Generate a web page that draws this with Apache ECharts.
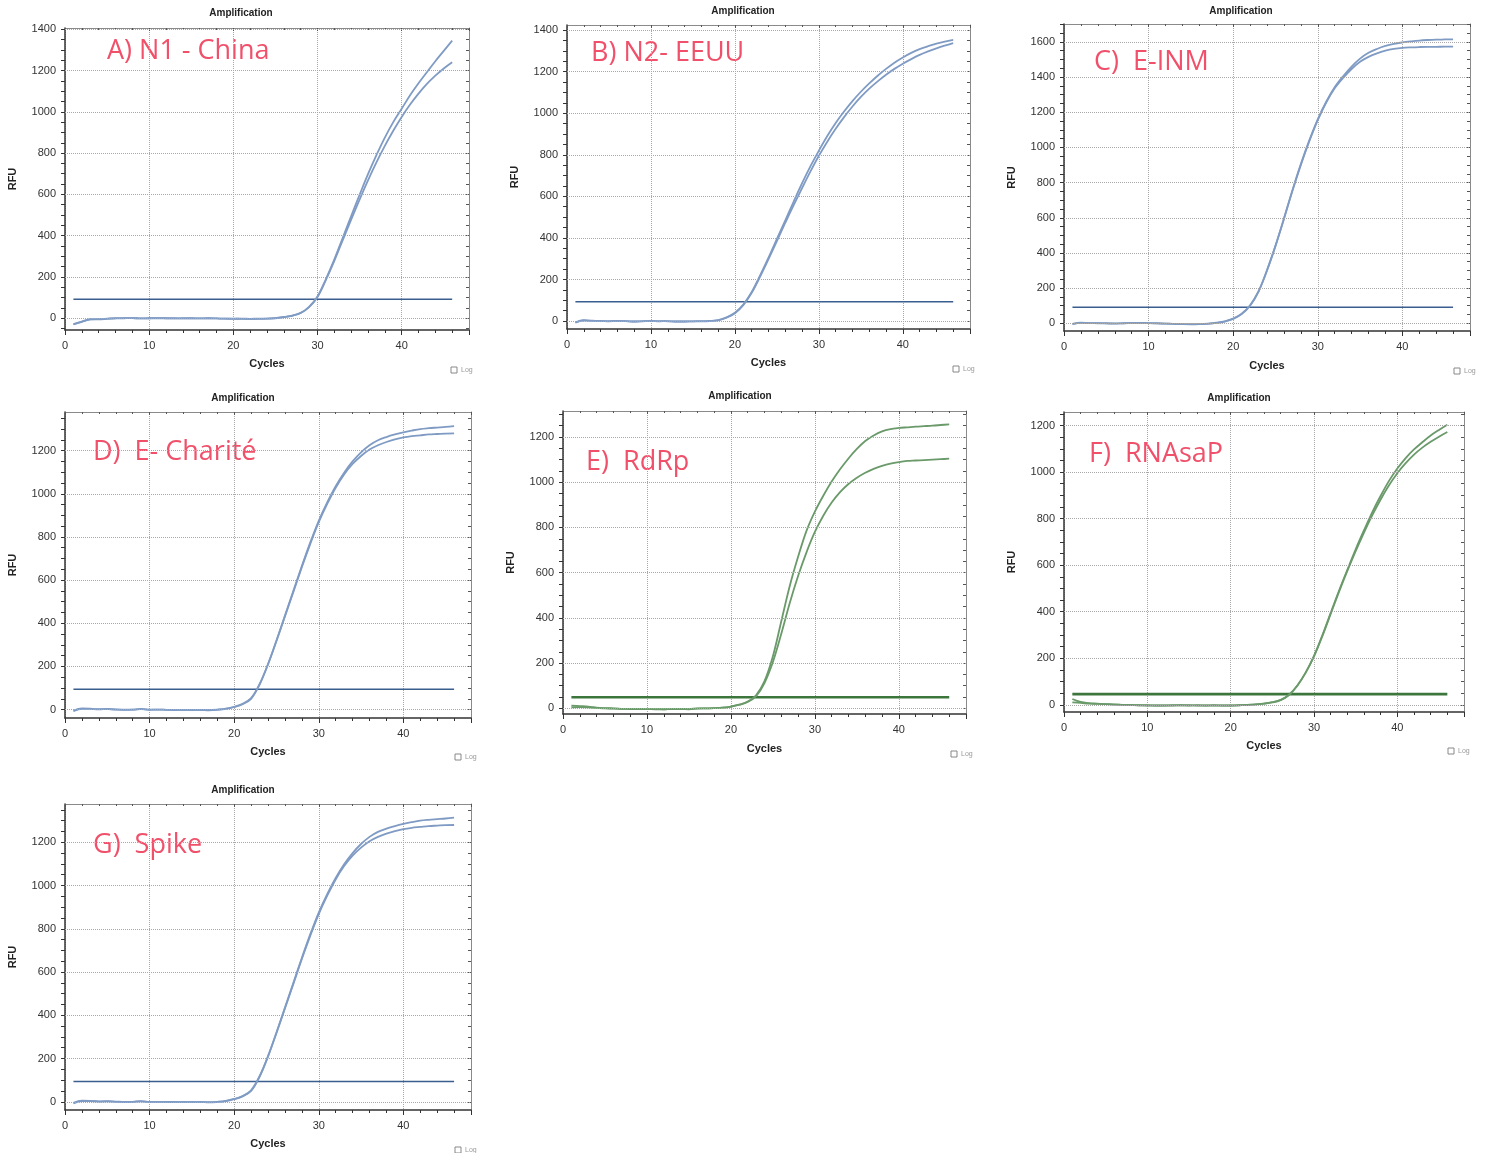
<!DOCTYPE html>
<html>
<head>
<meta charset="utf-8">
<title>Amplification</title>
<script src="https://cdn.jsdelivr.net/npm/echarts@6/dist/echarts.min.js"></script>
<style>
  html, body { margin: 0; padding: 0; background: #fff; }
  #chart { width: 1499px; height: 1153px; }
</style>
</head>
<body>
<div id="chart"></div>
<script>
// ciclos de la PCR (eje X)
const cycles = [1,2,3,4,5,6,7,8,9,10,11,12,13,14,15,16,17,18,19,20,21,22,23,24,25,26,27,28,29,30,31,32,33,34,35,36,37,38,39,40,41,42,43,44,45,46];
const xLabels = [0, 10, 20, 30, 40];

// A) N1 - China
const n1ChinaA = [-30,-18,-6,-5,-3,-1,0,1,-1,0, 0,0,0,-1,0,-1,0,-1,-2,-2, -3,-3,-2,-2,0,5,12,25,55,105, 190,285,390,495,598,698,790,875,950,1015, 1080,1138,1192,1245,1295,1345];
const n1ChinaB = [-28,-16,-5,-4,-2,0,1,1,-1,0, 1,0,-1,0,0,-1,0,-1,-2,-3, -2,-3,-3,-2,1,6,13,26,54,103, 186,278,378,478,575,668,755,835,908,975, 1035,1088,1135,1175,1210,1240];
const n1ChinaThreshold = 92;
const n1ChinaY = [0,200,400,600,800,1000,1200,1400];

// B) N2- EEUU
const n2EeuuA = [-8,3,2,0,0,1,0,-2,0,1, -1,0,-2,-2,-1,-1,0,5,18,40, 80,140,220,305,395,485,575,663,745,820, 890,953,1008,1058,1103,1143,1180,1213,1243,1268, 1290,1308,1322,1334,1344,1352];
const n2EeuuB = [-6,4,1,1,-1,0,0,-2,-1,0, 0,-1,-2,-2,-1,0,1,4,16,38, 77,136,214,298,385,473,558,640,720,795, 863,925,981,1032,1078,1118,1153,1185,1213,1238, 1260,1280,1297,1312,1325,1337];
const n2EeuuThreshold = 93;
const n2EeuuY = [0,200,400,600,800,1000,1200,1400];

// C) E-INM
const eInmA = [-5,2,1,0,-1,-2,0,1,2,1, 0,-2,-4,-5,-5,-5,-3,2,10,25, 52,100,180,300,440,595,755,905,1040,1160, 1260,1342,1405,1460,1505,1538,1560,1577,1589,1597, 1603,1608,1611,1613,1614,1615];
const eInmB = [-4,3,1,1,0,-1,0,2,1,1, -1,-2,-3,-5,-6,-5,-2,3,11,26, 54,102,182,302,440,593,752,900,1035,1155, 1255,1336,1395,1446,1487,1515,1535,1550,1560,1566, 1569,1571,1572,1572,1573,1573];
const eInmThreshold = 91;
const eInmY = [0,200,400,600,800,1000,1200,1400,1600];

// D) E- Charité
const eChariteA = [-5,5,4,1,3,0,0,0,2,0, 0,-1,-2,-1,-2,-1,-3,-1,3,12, 25,50,115,210,320,435,550,665,775,875, 960,1035,1098,1150,1192,1225,1248,1263,1275,1285, 1293,1300,1304,1307,1310,1314];
const eChariteB = [-7,3,3,2,2,1,-1,0,3,-1, 0,-1,-1,-2,-1,-2,-2,0,4,13, 27,53,118,210,318,432,545,660,768,868, 953,1028,1090,1138,1175,1205,1225,1240,1252,1261, 1267,1271,1275,1277,1279,1280];
const eChariteThreshold = 94;
const eChariteY = [0,200,400,600,800,1000,1200];

// E) RdRp
const rdrpA = [12,10,8,3,1,0,-2,-2,-2,-3, -3,-4,-2,-2,-3,0,0,1,3,8, 16,30,58,120,230,385,540,670,785,870, 940,1003,1057,1105,1147,1182,1207,1225,1235,1240, 1243,1246,1248,1250,1253,1256];
const rdrpB = [4,5,4,2,0,-1,-2,-3,-3,-3, -4,-4,-3,-3,-4,-1,0,1,3,8, 16,28,54,112,205,330,465,585,690,780, 852,910,956,992,1020,1042,1059,1072,1082,1089, 1094,1096,1098,1100,1102,1104];
const rdrpThreshold = 49;
const rdrpY = [0,200,400,600,800,1000,1200];

// F) RNAsaP
const rnasapA = [25,12,7,5,3,2,0,-1,-2,-3, -3,-3,-2,-2,-3,-2,-3,-3,-3,-3, -2,0,2,5,10,20,42,82,138,210, 298,395,490,580,668,750,828,898,962,1015, 1060,1097,1128,1157,1181,1203];
const rnasapB = [10,8,5,4,3,1,0,-1,-2,-2, -3,-3,-3,-2,-2,-3,-3,-2,-3,-3, -2,-1,2,5,11,21,43,83,138,208, 295,390,485,575,660,740,815,882,943,995, 1038,1075,1105,1130,1152,1172];
const rnasapThreshold = 46;
const rnasapY = [0,200,400,600,800,1000,1200];

// G) Spike
const spikeA = [-5,5,4,1,3,0,0,0,2,0, 0,-1,-2,-1,-2,-1,-3,-1,3,12, 25,50,115,210,320,435,550,665,775,875, 960,1035,1098,1150,1192,1225,1248,1263,1275,1285, 1293,1300,1304,1307,1310,1314];
const spikeB = [-7,3,3,2,2,1,-1,0,3,-1, 0,-1,-1,-2,-1,-2,-2,0,4,13, 27,53,118,210,318,432,545,660,768,868, 953,1028,1090,1138,1175,1205,1225,1240,1252,1261, 1267,1271,1275,1277,1279,1280];
const spikeThreshold = 94;
const spikeY = [0,200,400,600,800,1000,1200];

// colores
const schemes = {
  blue:  { curve: '#7f9bc4', threshold: '#3a5f8f', thWidth: 1.6 },
  green: { curve: '#6a9a6a', threshold: '#3c763c', thWidth: 2.6 }
};

// paneles: posicion de cada grafico en la pagina
const panels = [
  { label: 'A) N1 - China',  curves: [n1ChinaA, n1ChinaB],   threshold: n1ChinaThreshold,  yLabels: n1ChinaY,  scheme: 'blue',
    left: 65,   top: 28,  width: 404, height: 302, yMin: -57, yMax: 1406, title: [241, 13],   tag: [107, 51],   log: [451, 370],  nameGap: 28 },
  { label: 'B) N2- EEUU',    curves: [n2EeuuA, n2EeuuB],     threshold: n2EeuuThreshold,   yLabels: n2EeuuY,   scheme: 'blue',
    left: 567,  top: 25,  width: 403, height: 304, yMin: -38, yMax: 1424, title: [743, 11],   tag: [591, 53],   log: [953, 369],  nameGap: 28 },
  { label: 'C)  E-INM',      curves: [eInmA, eInmB],         threshold: eInmThreshold,     yLabels: eInmY,     scheme: 'blue',
    left: 1064, top: 24,  width: 406, height: 307, yMin: -44, yMax: 1702, title: [1241, 11],  tag: [1094, 62],  log: [1454, 371], nameGap: 29 },
  { label: 'D)  E- Charité', curves: [eChariteA, eChariteB], threshold: eChariteThreshold, yLabels: eChariteY, scheme: 'blue',
    left: 65,   top: 412, width: 406, height: 306, yMin: -39, yMax: 1379, title: [243, 398],  tag: [93, 452],   log: [455, 757],  nameGap: 28 },
  { label: 'E)  RdRp',       curves: [rdrpA, rdrpB],         threshold: rdrpThreshold,     yLabels: rdrpY,     scheme: 'green',
    left: 563,  top: 411, width: 403, height: 303, yMin: -25, yMax: 1315, title: [740, 396],  tag: [586, 462],  log: [951, 754],  nameGap: 29 },
  { label: 'F)  RNAsaP',     curves: [rnasapA, rnasapB],     threshold: rnasapThreshold,   yLabels: rnasapY,   scheme: 'green',
    left: 1064, top: 412, width: 400, height: 300, yMin: -31, yMax: 1258, title: [1239, 398], tag: [1089, 454], log: [1448, 751], nameGap: 28 },
  { label: 'G)  Spike',      curves: [spikeA, spikeB],       threshold: spikeThreshold,    yLabels: spikeY,    scheme: 'blue',
    left: 65,   top: 804, width: 406, height: 306, yMin: -38, yMax: 1377, title: [243, 790],  tag: [93, 845],   log: [455, 1150], nameGap: 28 }
];

const FONT = 'Liberation Sans, Arial, sans-serif';

// marcas menores del eje Y cada 50
function tickValues(min, max, step) {
  const out = [];
  for (let v = Math.ceil(min / step) * step; v <= max; v += step) out.push(v);
  return out;
}
// sin separador de miles
function plain(v) { return String(v); }

const grid = [], xAxis = [], yAxis = [], series = [], graphic = [];

panels.forEach(function (p, i) {
  const sc = schemes[p.scheme];
  grid.push({ left: p.left, top: p.top, width: p.width, height: p.height, show: false });

  // eje X inferior (con etiquetas) y superior (solo marcas)
  xAxis.push({
    gridIndex: i, type: 'value', position: 'bottom', min: 0, max: 48, interval: 10,
    name: 'Cycles', nameLocation: 'middle', nameGap: p.nameGap,
    nameTextStyle: { fontFamily: FONT, fontWeight: 'bold', fontSize: 11, color: '#222' },
    axisLine: { show: true, onZero: false, lineStyle: { color: '#333', width: 1.5 } },
    axisTick: { show: true, length: 5, lineStyle: { color: '#333' } },
    minorTick: { show: true, splitNumber: 5, length: 3, lineStyle: { color: '#333' } },
    axisLabel: { customValues: xLabels, formatter: plain, margin: 10, fontFamily: FONT, fontSize: 11, color: '#333' },
    splitLine: { show: true, lineStyle: { type: 'dotted', color: '#a8a8a8', width: 1 } }
  });
  xAxis.push({
    gridIndex: i, type: 'value', position: 'top', min: 0, max: 48, interval: 10,
    axisLine: { show: true, onZero: false, lineStyle: { color: '#8a8a8a', width: 1 } },
    axisTick: { show: true, inside: true, length: 3, lineStyle: { color: '#555' } },
    minorTick: { show: true, splitNumber: 5, length: 2, lineStyle: { color: '#555' } },
    axisLabel: { show: false },
    splitLine: { show: false }
  });

  const ticks = tickValues(p.yMin, p.yMax, 50);
  yAxis.push({
    gridIndex: i, type: 'value', position: 'left', min: p.yMin, max: p.yMax,
    name: 'RFU', nameLocation: 'middle', nameGap: 47,
    nameTextStyle: { fontFamily: FONT, fontWeight: 'bold', fontSize: 11, color: '#222' },
    axisLine: { show: true, onZero: false, lineStyle: { color: '#333', width: 1.5 } },
    axisTick: { show: true, length: 4, customValues: ticks, lineStyle: { color: '#333' } },
    axisLabel: { customValues: p.yLabels, formatter: plain, margin: 9, fontFamily: FONT, fontSize: 11, color: '#333' },
    splitLine: { show: false }
  });
  yAxis.push({
    gridIndex: i, type: 'value', position: 'right', min: p.yMin, max: p.yMax,
    axisLine: { show: true, onZero: false, lineStyle: { color: '#8a8a8a', width: 1 } },
    axisTick: { show: true, inside: true, length: 3, customValues: ticks, lineStyle: { color: '#555' } },
    axisLabel: { show: false },
    splitLine: { show: false }
  });

  // linea umbral + rejilla horizontal punteada
  series.push({
    type: 'line', xAxisIndex: 2 * i, yAxisIndex: 2 * i, z: 2,
    symbol: 'none', silent: true,
    data: [[cycles[0], p.threshold], [cycles[cycles.length - 1], p.threshold]],
    lineStyle: { color: sc.threshold, width: sc.thWidth },
    markLine: {
      silent: true, symbol: 'none', label: { show: false },
      lineStyle: { type: 'dotted', color: '#a8a8a8', width: 1 },
      data: p.yLabels.map(function (v) { return { yAxis: v }; })
    }
  });

  p.curves.forEach(function (vals) {
    series.push({
      type: 'line', xAxisIndex: 2 * i, yAxisIndex: 2 * i, z: 3,
      symbol: 'none', smooth: 0.35, silent: true,
      data: cycles.map(function (c, k) { return [c, vals[k]]; }),
      lineStyle: { color: sc.curve, width: 1.8 }
    });
  });

  graphic.push({
    type: 'text', x: p.title[0], y: p.title[1],
    style: { text: 'Amplification', font: 'bold 10px ' + FONT, fill: '#222',
      align: 'center', verticalAlign: 'middle', textAlign: 'center', textVerticalAlign: 'middle' }
  });
  graphic.push({
    type: 'text', x: p.tag[0], y: p.tag[1],
    style: { text: p.label, font: '27px "Open Sans", "Noto Sans", sans-serif', fill: '#f0506a',
      align: 'left', verticalAlign: 'middle', textAlign: 'left', textVerticalAlign: 'middle' }
  });
  graphic.push({
    type: 'rect', shape: { x: p.log[0], y: p.log[1] - 3, width: 6, height: 6 },
    style: { fill: '#fff', stroke: '#888', lineWidth: 1 }
  });
  graphic.push({
    type: 'text', x: p.log[0] + 10, y: p.log[1],
    style: { text: 'Log', font: '7px ' + FONT, fill: '#999',
      align: 'left', verticalAlign: 'middle', textAlign: 'left', textVerticalAlign: 'middle' }
  });
});

const chart = echarts.init(document.getElementById('chart'));
chart.setOption({
  animation: false,
  backgroundColor: '#fff',
  grid: grid,
  xAxis: xAxis,
  yAxis: yAxis,
  series: series,
  graphic: graphic
});
</script>
</body>
</html>
